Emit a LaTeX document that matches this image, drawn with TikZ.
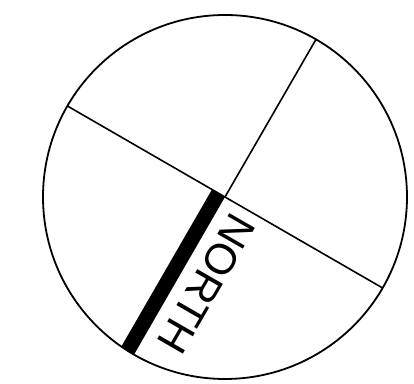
\documentclass[tikz,border=0pt]{standalone}
\usepackage{fontspec}
\setmainfont{Liberation Sans}
\usetikzlibrary{calc}

\begin{document}
\begin{tikzpicture}[
    x=0.5pt, y=0.5pt,
    rim/.style={draw, line width=0.9pt},
    spoke/.style={line width=0.8pt},
    needle/.style={fill=black},
    northlab/.style={font=\fontsize{21.5}{24}\selectfont, inner sep=0pt, rotate=-120, anchor=base west},
]
\useasboundingbox (0,0) rectangle (414,384);
\coordinate (c) at (225,187);

% Dial
\draw[rim] (c) circle (182);

% Cross
\draw[spoke] (c) -- ++(60:182);
\draw[spoke] (c) -- ++(150:182);
\draw[spoke] (c) -- ++(-30:182);

% North marker
\begin{scope}
  \clip (c) circle (182);
  \fill[needle] (c) -- ++(150:15) -- ++(240:200) -- ++(-30:15) -- cycle;
\end{scope}
\node[northlab] (north) at ($(c)+(240:8)+(330:12.5)$) {NORTH};

\end{tikzpicture}
\end{document}
